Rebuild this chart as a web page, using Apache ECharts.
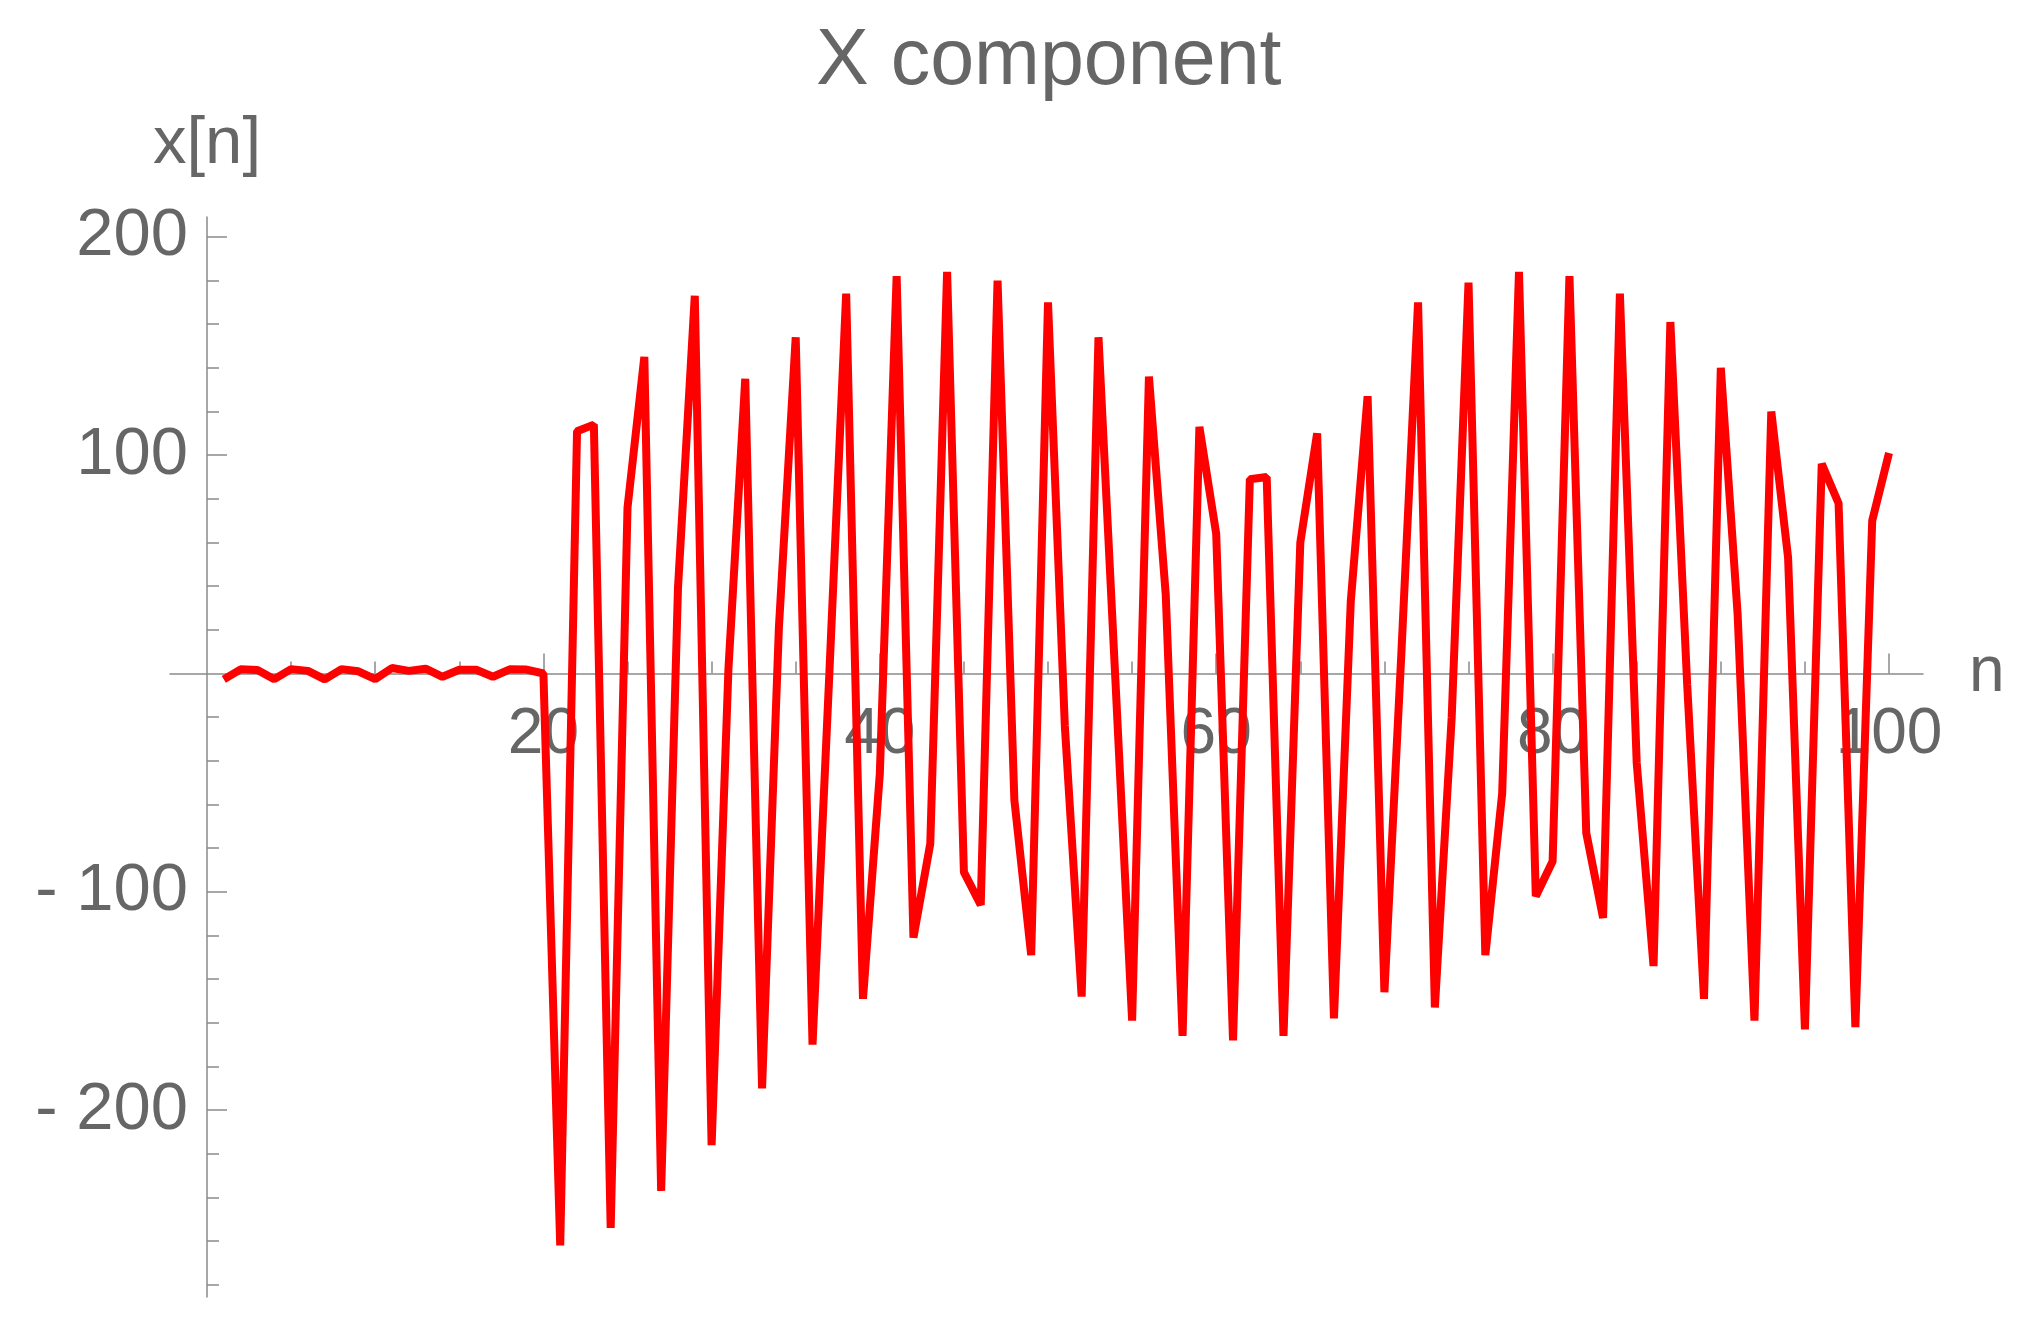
<!DOCTYPE html>
<html>
<head>
<meta charset="utf-8">
<title>X component</title>
<script src="https://cdn.jsdelivr.net/npm/echarts@6/dist/echarts.min.js"></script>
<style>
  html, body { margin: 0; padding: 0; background: #ffffff; }
  #chart { width: 2034px; height: 1326px; }
</style>
</head>
<body>
<div id="chart"></div>
<script>
// ---- data ----
var N_VALUES = [
  1, 2, 3, 4, 5, 6, 7, 8, 9, 10,
  11, 12, 13, 14, 15, 16, 17, 18, 19, 20,
  21, 22, 23, 24, 25, 26, 27, 28, 29, 30,
  31, 32, 33, 34, 35, 36, 37, 38, 39, 40,
  41, 42, 43, 44, 45, 46, 47, 48, 49, 50,
  51, 52, 53, 54, 55, 56, 57, 58, 59, 60,
  61, 62, 63, 64, 65, 66, 67, 68, 69, 70,
  71, 72, 73, 74, 75, 76, 77, 78, 79, 80,
  81, 82, 83, 84, 85, 86, 87, 88, 89, 90,
  91, 92, 93, 94, 95, 96, 97, 98, 99, 100
];
var X_VALUES = [
  -2.7, 1.9, 1.6, -2.6, 2.0, 1.2, -2.7, 2.0, 1.0, -2.6,
  2.5, 1.2, 2.2, -1.5, 1.7, 1.7, -1.5, 1.9, 1.8, 0,
  -262, 111, 114, -254, 76, 145, -237, 39, 173, -216,
  2, 135, -190, 21, 154, -170, 0, 174, -149, -46,
  182, -121, -78, 184, -91, -106, 180, -58, -129, 170,
  -24, -148, 154, -2, -159, 136, 36, -166, 113, 64,
  -168, 89, 90, -166, 60, 110, -158, 33, 127, -146,
  8, 170, -153, -20, 179, -129, -55, 184, -102, -86,
  182, -73, -112, 174, -41, -134, 161, -5, -149, 140,
  27, -159, 120, 53, -163, 96, 78, -162, 70, 101
];
var X_TICKS = [20, 40, 60, 80, 100];
var X_MINOR_TICKS = [5, 10, 15, 25, 30, 35, 45, 50, 55, 65, 70, 75, 85, 90, 95];
var Y_TICKS = [-200, -100, 100, 200];
var Y_MINOR_TICKS = [-280, -260, -240, -220, -180, -160, -140, -120, -80, -60, -40, -20,
                     20, 40, 60, 80, 120, 140, 160, 180];
var TITLE = 'X component';
var X_NAME = 'n';
var Y_NAME = 'x[n]';

// ---- view ----
var W = 2034, H = 1326;
var XMIN = -2.2, XMAX = 102.02;
var YMIN = -285.6, YMAX = 209.1;
var GRID_LEFT = 170, GRID_RIGHT = 111, GRID_TOP = 217, GRID_BOTTOM = 29;
var FONT = "'Liberation Sans', Arial, Helvetica, sans-serif";
var TEXT_COLOR = '#666666';
var AXIS_COLOR = '#8a8a8a';

// layout helpers: where the axes cross (x = 0, y = 0)
var plotW = W - GRID_LEFT - GRID_RIGHT;
var plotH = H - GRID_TOP - GRID_BOTTOM;
var yAxisLeft = GRID_LEFT + (0 - XMIN) * plotW / (XMAX - XMIN);
var xAxisTopFromBottom = H - (GRID_TOP + (YMAX - 0) * plotH / (YMAX - YMIN));

var points = N_VALUES.map(function (n, i) { return [n, X_VALUES[i]]; });

function yLabel(v) {
  return v < 0 ? '- ' + (-v) : String(v);
}

var tickStyle = { color: AXIS_COLOR, width: 1.5 };

var chart = echarts.init(document.getElementById('chart'), null, { renderer: 'canvas' });
chart.setOption({
  animation: false,
  backgroundColor: '#ffffff',
  title: {
    text: TITLE,
    left: 811,
    top: 18,
    textStyle: { fontFamily: FONT, fontSize: 79, fontWeight: 'normal', color: TEXT_COLOR }
  },
  grid: [
    // grid 0: horizontal axis, its bottom edge sits on y = 0
    { left: GRID_LEFT, right: GRID_RIGHT, top: GRID_TOP, bottom: xAxisTopFromBottom,
      containLabel: false, outerBoundsMode: 'none' },
    // grid 1: vertical axis and the data, its left edge sits on x = 0
    { left: yAxisLeft, right: GRID_RIGHT, top: GRID_TOP, bottom: GRID_BOTTOM,
      containLabel: false, outerBoundsMode: 'none' }
  ],
  xAxis: [
    {
      gridIndex: 0,
      type: 'value',
      min: XMIN, max: XMAX,
      position: 'bottom',
      name: X_NAME,
      nameLocation: 'end',
      nameGap: 46,
      nameTextStyle: { fontFamily: FONT, fontSize: 64, color: TEXT_COLOR, verticalAlign: 'middle' },
      axisLine: { show: true, onZero: false, lineStyle: tickStyle },
      axisTick: { show: true, inside: true, length: 20, customValues: X_TICKS, lineStyle: tickStyle },
      axisLabel: { show: true, customValues: X_TICKS, margin: 30, fontFamily: FONT, fontSize: 64, color: TEXT_COLOR },
      splitLine: { show: false }
    },
    {
      gridIndex: 0,
      type: 'value',
      min: XMIN, max: XMAX,
      position: 'bottom',
      offset: 0,
      axisLine: { show: false, onZero: false },
      axisTick: { show: true, inside: true, length: 12, customValues: X_MINOR_TICKS, lineStyle: tickStyle },
      axisLabel: { show: false },
      splitLine: { show: false }
    },
    {
      gridIndex: 1,
      type: 'value',
      min: 0, max: XMAX,
      show: false
    }
  ],
  yAxis: [
    {
      gridIndex: 0,
      type: 'value',
      min: 0, max: YMAX,
      show: false
    },
    {
      gridIndex: 1,
      type: 'value',
      min: YMIN, max: YMAX,
      position: 'left',
      name: Y_NAME,
      nameLocation: 'end',
      nameGap: 39,
      nameTextStyle: { fontFamily: FONT, fontSize: 67, color: TEXT_COLOR, align: 'center' },
      axisLine: { show: true, onZero: false, lineStyle: tickStyle },
      axisTick: { show: true, inside: true, length: 20, customValues: Y_TICKS, lineStyle: tickStyle },
      axisLabel: { show: true, customValues: Y_TICKS, margin: 19, fontFamily: FONT, fontSize: 67, color: TEXT_COLOR, formatter: yLabel },
      splitLine: { show: false }
    },
    {
      gridIndex: 1,
      type: 'value',
      min: YMIN, max: YMAX,
      position: 'left',
      offset: 0,
      axisLine: { show: false, onZero: false },
      axisTick: { show: true, inside: true, length: 12, customValues: Y_MINOR_TICKS, lineStyle: tickStyle },
      axisLabel: { show: false },
      splitLine: { show: false }
    }
  ],
  series: [
    {
      type: 'line',
      xAxisIndex: 2,
      yAxisIndex: 1,
      data: points,
      showSymbol: false,
      symbol: 'none',
      z: 5,
      lineStyle: { color: '#ff0000', width: 8, join: 'bevel', cap: 'butt' }
    }
  ]
});
</script>
</body>
</html>
